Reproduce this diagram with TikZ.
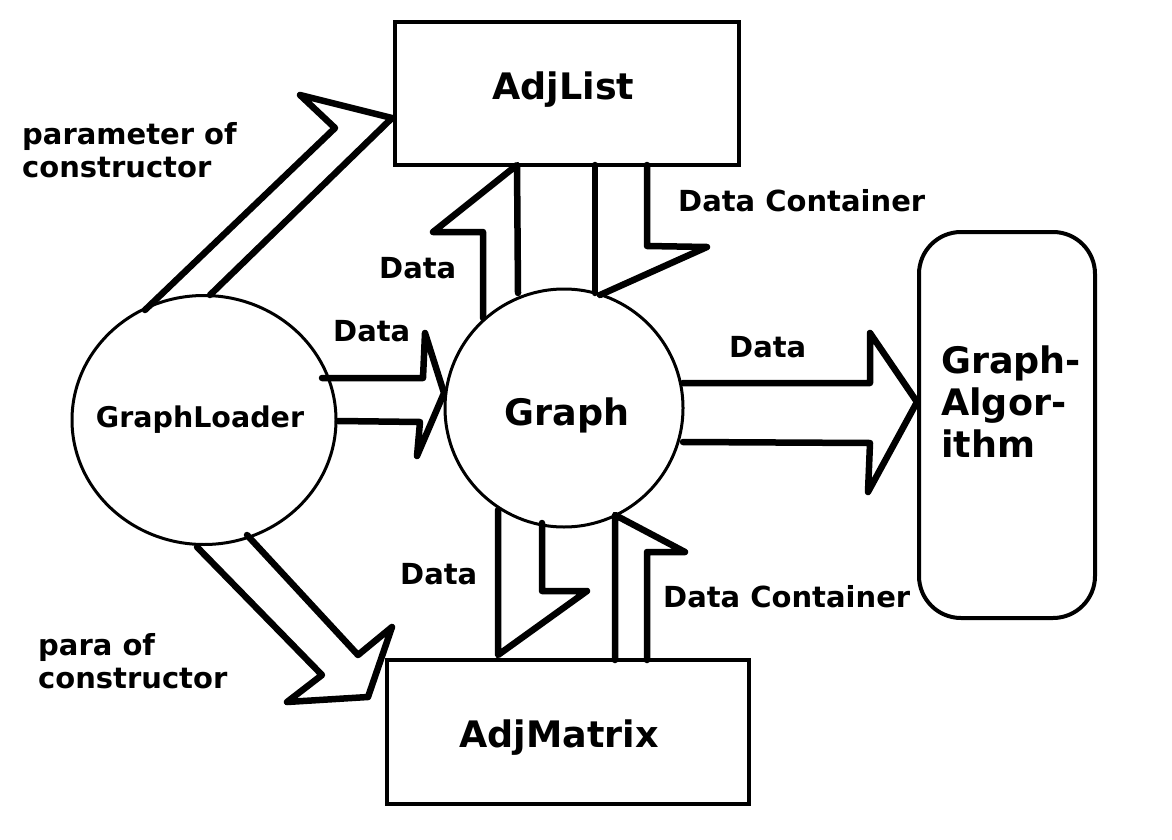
\documentclass[tikz,border=0pt]{standalone}
\usepackage{fontspec}
\setmainfont{DejaVu Sans}
\usetikzlibrary{positioning}
\usetikzlibrary{shapes.geometric}

\begin{document}
\begin{tikzpicture}[x=1pt, y=-1pt,
  box/.style={draw, line width=4pt, inner sep=0pt},
  blob/.style={draw, line width=3pt, inner sep=0pt},
  blockarrow/.style={line width=6.5pt, line join=round, line cap=round},
  lbl/.style={font=\fontsize{29}{33}\selectfont\bfseries, anchor=west, inner sep=0pt, align=left},
  big/.style={font=\fontsize{36.5}{42}\selectfont\bfseries, inner sep=0pt}]

  \useasboundingbox (0,0) rectangle (1172,840);

  % boxes and circles
  \node[box, minimum width=344pt, minimum height=143pt] (adjlist) at (567,93.5) {};
  \node[box, minimum width=362pt, minimum height=144pt] (adjmatrix) at (568,732) {};
  \node[box, rounded corners=42pt, minimum width=176pt, minimum height=386pt] (algo) at (1007,425) {};
  \node[blob, circle, minimum size=238pt] (graph) at (564,408) {};
  \node[blob, ellipse, minimum width=264pt, minimum height=249pt] (loader) at (204,420) {};

  % box texts
  \node[big, anchor=base] (adjlisttext) at (563.5,100) {AdjList};
  \node[big, anchor=base] (adjmatrixtext) at (559,747) {AdjMatrix};
  \node[big, anchor=base] (graphtext) at (567,425) {Graph};
  \node[font=\fontsize{28.5}{33}\selectfont\bfseries, inner sep=0pt] (loadertext) at (200,420) {GraphLoader};
  \node[big, anchor=west, align=left] (algotext) at (941,402) {Graph-\\Algor-\\ithm};

  % block arrows
  \draw[blockarrow] (145,310) -- (335,128) -- (300,95) -- (392,118) -- (210,295); % loader to adjlist
  \draw[blockarrow] (197,547) -- (322,675) -- (287,702) -- (368,697) -- (392,627) -- (358,655) -- (247,535); % loader to adjmatrix
  \draw[blockarrow] (322,378) -- (423,378) -- (425,333) -- (444,393) -- (417,456) -- (420,422) -- (338,421); % loader to graph
  \draw[blockarrow] (683,383) -- (870,383) -- (870,333) -- (917,402) -- (868,492) -- (870,443) -- (683,442); % graph to algo
  \draw[blockarrow] (483,318) -- (483,232) -- (433,232) -- (517,165) -- (518,293); % graph up to adjlist
  \draw[blockarrow] (595,165) -- (595,293); % adjlist down to graph
  \draw[blockarrow] (647,165) -- (647,246) -- (707,247) -- (600,295);
  \draw[blockarrow] (498,510) -- (498,655) -- (587,591) -- (542,591) -- (542,523); % graph down to adjmatrix
  \draw[blockarrow] (615,660) -- (615,515) -- (685,552) -- (647,552) -- (647,660); % adjmatrix up to graph

  % labels
  \node[lbl] (ctorup) at (22,150) {parameter of\\constructor};
  \node[lbl] (ctordown) at (38,661) {para of\\constructor};
  \node[lbl] (dataup) at (379,268) {Data};
  \node[lbl] (datamid) at (333,331) {Data};
  \node[lbl] (dataright) at (729,347) {Data};
  \node[lbl] (datadown) at (400,574) {Data};
  \node[lbl] (contup) at (678,201) {Data Container};
  \node[lbl] (contdown) at (663,597) {Data Container};

\end{tikzpicture}
\end{document}
